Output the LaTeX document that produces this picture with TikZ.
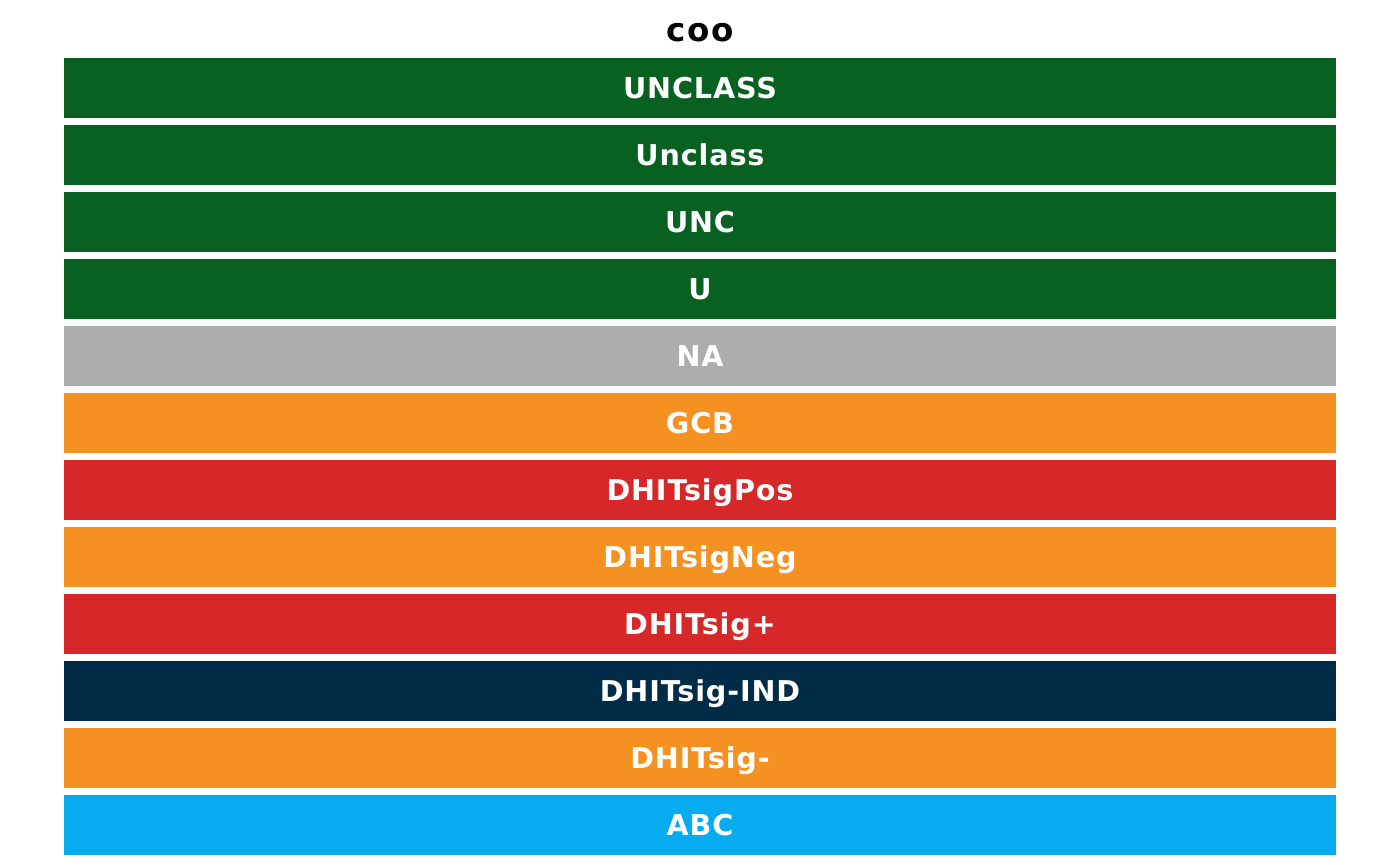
\documentclass[tikz,border=0pt]{standalone}
\usepackage{fontspec}
\setmainfont{DejaVu Sans}
\usepackage{xcolor}
\usepackage{tikz}
\usetikzlibrary{positioning}

\definecolor{unclgreen}{HTML}{086121}
\definecolor{nagrey}{HTML}{ACADAF}
\definecolor{gcborange}{HTML}{F59121}
\definecolor{dhitred}{HTML}{D62729}
\definecolor{indnavy}{HTML}{002C47}
\definecolor{abcblue}{HTML}{06ACEF}

\begin{document}
\begin{tikzpicture}[font=\fontsize{16.3}{20}\selectfont\bfseries]
	\tikzstyle{bar} = [rectangle, draw=none, minimum width=25.44cm, minimum height=1.21cm, text=white, text height=12.4pt, text depth=0pt, inner sep=0pt]
	\tikzstyle{invis} = [draw=none, font=\fontsize{18.5}{22}\selectfont\bfseries]

	\useasboundingbox (0, 0) rectangle (28, 17.3);

	\node[invis, anchor=base]	at (14, 16.47)		(title)		{\addfontfeature{LetterSpace=6}coo};
	\node[bar, fill=unclgreen]	at (14, 15.54)		(b1)		{\addfontfeature{LetterSpace=3}UNCLASS};
	\node[bar, fill=unclgreen]	at (14, 14.20)		(b2)		{\addfontfeature{LetterSpace=3}Unclass};
	\node[bar, fill=unclgreen]	at (14, 12.86)		(b3)		{\addfontfeature{LetterSpace=3}UNC};
	\node[bar, fill=unclgreen]	at (14, 11.52)		(b4)		{U};
	\node[bar, fill=nagrey]		at (14, 10.18)		(b5)		{\addfontfeature{LetterSpace=3}NA};
	\node[bar, fill=gcborange]	at (14, 8.84)		(b6)		{\addfontfeature{LetterSpace=3}GCB};
	\node[bar, fill=dhitred]	at (14, 7.50)		(b7)		{\addfontfeature{LetterSpace=3}DHITsigPos};
	\node[bar, fill=gcborange]	at (14, 6.16)		(b8)		{\addfontfeature{LetterSpace=3}DHITsigNeg};
	\node[bar, fill=dhitred]	at (14, 4.82)		(b9)		{\addfontfeature{LetterSpace=3}DHITsig+};
	\node[bar, fill=indnavy]	at (14, 3.48)		(b10)		{\addfontfeature{LetterSpace=3}DHITsig-IND};
	\node[bar, fill=gcborange]	at (14, 2.14)		(b11)		{\addfontfeature{LetterSpace=3}DHITsig-};
	\node[bar, fill=abcblue]	at (14, 0.80)		(b12)		{\addfontfeature{LetterSpace=3}ABC};
\end{tikzpicture}
\end{document}
